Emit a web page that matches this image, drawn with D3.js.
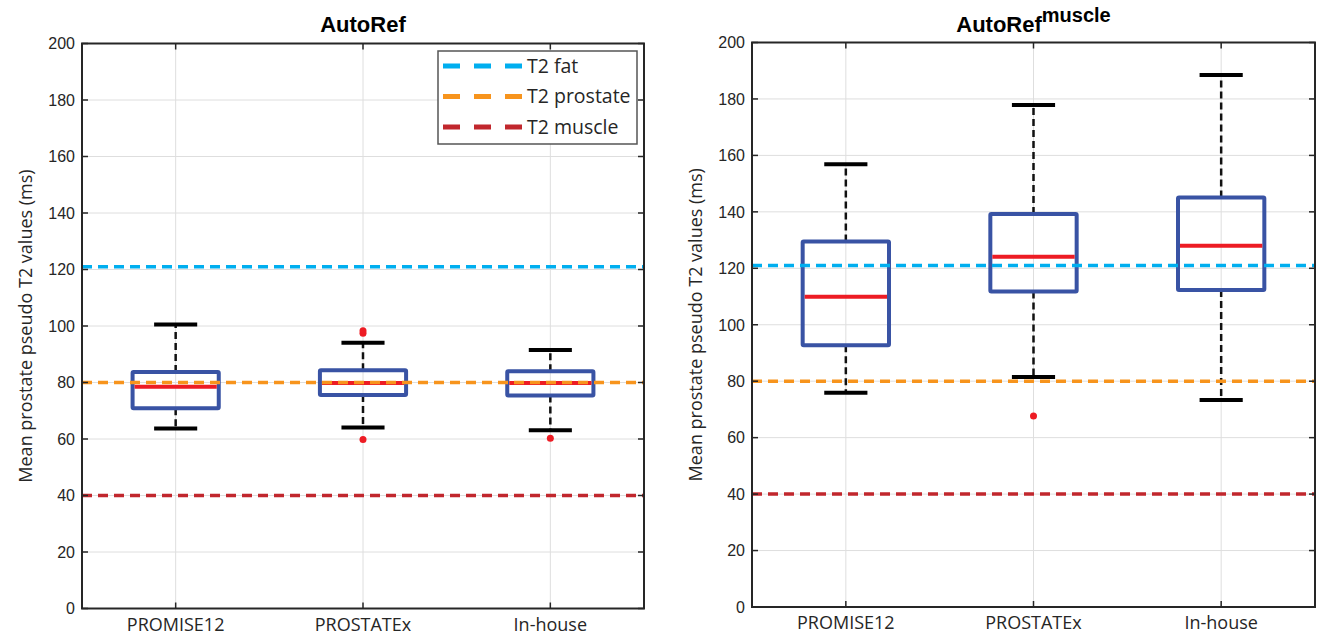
<!DOCTYPE html>
<html>
<head>
<meta charset="utf-8">
<script src="https://cdn.jsdelivr.net/npm/d3@7"></script>
<style>
  body { margin: 0; background: #fff; }
  svg { display: block; }
</style>
</head>
<body>
<script>
// categories and tick labels
const categories = ["PROMISE12", "PROSTATEx", "In-house"];
const yTickValues = [0, 20, 40, 60, 80, 100, 120, 140, 160, 180, 200];

// reference T2 values (dashed lines)
const refNames = ["T2 fat", "T2 prostate", "T2 muscle"];
const refValues = [121, 80, 40];
const refColors = ["#00aeef", "#f7941d", "#c1272d"];

// AutoRef box statistics
const autoRefLow    = [63.7, 64.1, 63.1];
const autoRefQ1     = [70.9, 75.6, 75.4];
const autoRefMedian = [78.5, 79.8, 79.8];
const autoRefQ3     = [83.7, 84.3, 84.0];
const autoRefHigh   = [100.5, 94.1, 91.5];
const autoRefOutliers = [[], [97.4, 98.3, 59.8], [60.3]];

// AutoRef^muscle box statistics
const muscleLow    = [75.9, 81.5, 73.3];
const muscleQ1     = [92.7, 111.8, 112.3];
const muscleMedian = [109.9, 124.1, 128.0];
const muscleQ3     = [129.5, 139.2, 145.1];
const muscleHigh   = [156.9, 177.9, 188.5];
const muscleOutliers = [[], [67.7], []];

const W = 1318, H = 634;
const svg = d3.select("body").append("svg")
    .attr("width", W)
    .attr("height", H);

const textFont = "'Open Sans', 'Noto Sans', sans-serif";
const numFont = "'Liberation Sans', Arial, sans-serif";

function drawPanel(p) {
    const x = d3.scaleLinear().domain([0.5, 3.5]).range([p.left, p.right]);
    const y = d3.scaleLinear().domain([0, 200]).range([p.bottom, p.top]);
    const g = svg.append("g");
    const boxHalf = (x(1.23) - x(1)) ;
    const capHalf = (x(1.115) - x(1));

    // grid
    g.selectAll(".hgrid").data(yTickValues).enter().append("line")
        .attr("x1", p.left).attr("x2", p.right)
        .attr("y1", d => y(d)).attr("y2", d => y(d))
        .attr("stroke", "#dedede").attr("stroke-width", 1);
    g.selectAll(".vgrid").data(categories).enter().append("line")
        .attr("x1", (d, i) => x(i + 1)).attr("x2", (d, i) => x(i + 1))
        .attr("y1", p.top).attr("y2", p.bottom)
        .attr("stroke", "#dedede").attr("stroke-width", 1);

    const stats = categories.map((c, i) => ({
        i: i + 1, low: p.low[i], q1: p.q1[i], med: p.med[i], q3: p.q3[i], high: p.high[i], out: p.out[i]
    }));

    // whiskers
    const wh = g.selectAll(".wh").data(stats).enter();
    wh.append("line")
        .attr("x1", d => x(d.i)).attr("x2", d => x(d.i))
        .attr("y1", d => y(d.q3)).attr("y2", d => y(d.high))
        .attr("stroke", "#111").attr("stroke-width", 2.5).attr("stroke-dasharray", "7,4");
    wh.append("line")
        .attr("x1", d => x(d.i)).attr("x2", d => x(d.i))
        .attr("y1", d => y(d.q1)).attr("y2", d => y(d.low))
        .attr("stroke", "#111").attr("stroke-width", 2.5).attr("stroke-dasharray", "7,4");
    // caps
    ["high", "low"].forEach(k => {
        g.selectAll(".cap-" + k).data(stats).enter().append("line")
            .attr("x1", d => x(d.i) - capHalf).attr("x2", d => x(d.i) + capHalf)
            .attr("y1", d => y(d[k])).attr("y2", d => y(d[k]))
            .attr("stroke", "#000").attr("stroke-width", 4);
    });
    // boxes
    g.selectAll(".box").data(stats).enter().append("rect")
        .attr("x", d => x(d.i) - boxHalf)
        .attr("width", boxHalf * 2)
        .attr("y", d => y(d.q3))
        .attr("height", d => y(d.q1) - y(d.q3))
        .attr("fill", "none")
        .attr("stroke", "#3953a4").attr("stroke-width", 4)
        .attr("rx", 1);
    // medians
    g.selectAll(".med").data(stats).enter().append("line")
        .attr("x1", d => x(d.i) - boxHalf + 2).attr("x2", d => x(d.i) + boxHalf - 2)
        .attr("y1", d => y(d.med)).attr("y2", d => y(d.med))
        .attr("stroke", "#ed1c24").attr("stroke-width", 4);
    // outliers
    stats.forEach(d => {
        g.selectAll(null).data(d.out).enter().append("circle")
            .attr("cx", x(d.i)).attr("cy", v => y(v))
            .attr("r", 3.5).attr("fill", "#ed1c24");
    });

    // reference lines
    g.selectAll(".ref").data(refValues).enter().append("line")
        .attr("x1", p.left).attr("x2", p.right)
        .attr("y1", d => y(d)).attr("y2", d => y(d))
        .attr("stroke", (d, i) => refColors[i])
        .attr("stroke-width", 3.5)
        .attr("stroke-dasharray", "10,6");

    // axes box with inward ticks
    g.append("rect")
        .attr("x", p.left).attr("y", p.top)
        .attr("width", p.right - p.left).attr("height", p.bottom - p.top)
        .attr("fill", "none").attr("stroke", "#262626").attr("stroke-width", 2);
    const tl = 6;
    yTickValues.forEach(v => {
        g.append("line").attr("x1", p.left).attr("x2", p.left + tl)
            .attr("y1", y(v)).attr("y2", y(v)).attr("stroke", "#262626").attr("stroke-width", 1.5);
        g.append("line").attr("x1", p.right).attr("x2", p.right - tl)
            .attr("y1", y(v)).attr("y2", y(v)).attr("stroke", "#262626").attr("stroke-width", 1.5);
    });
    categories.forEach((c, i) => {
        g.append("line").attr("x1", x(i + 1)).attr("x2", x(i + 1))
            .attr("y1", p.top).attr("y2", p.top + tl).attr("stroke", "#262626").attr("stroke-width", 1.5);
        g.append("line").attr("x1", x(i + 1)).attr("x2", x(i + 1))
            .attr("y1", p.bottom).attr("y2", p.bottom - tl).attr("stroke", "#262626").attr("stroke-width", 1.5);
    });

    // tick labels
    g.selectAll(".ylab").data(yTickValues).enter().append("text")
        .attr("x", p.left - 7).attr("y", d => y(d))
        .attr("dy", "0.36em")
        .attr("text-anchor", "end")
        .attr("font-family", numFont).attr("font-size", 16)
        .attr("fill", "#262626")
        .text(d => d);
    g.selectAll(".xlab").data(categories).enter().append("text")
        .attr("x", (d, i) => x(i + 1)).attr("y", p.bottom + 22)
        .attr("text-anchor", "middle")
        .attr("font-family", textFont).attr("font-size", 18)
        .attr("fill", "#262626")
        .text(d => d);

    // y axis title
    g.append("text")
        .attr("transform", `translate(${p.left - 56},${(p.top + p.bottom) / 2}) rotate(-90)`)
        .attr("text-anchor", "middle")
        .attr("dy", "0.35em")
        .attr("font-family", textFont).attr("font-size", 18)
        .attr("fill", "#262626")
        .text("Mean prostate pseudo T2 values (ms)");

    // title
    const t = g.append("text")
        .attr("x", (p.left + p.right) / 2).attr("y", 32)
        .attr("text-anchor", "middle")
        .attr("font-family", numFont).attr("font-size", 22)
        .attr("font-weight", "bold")
        .attr("fill", "#000");
    t.append("tspan").text("AutoRef");
    if (p.sup) {
        t.append("tspan").attr("dy", -10).attr("font-size", 20).text(p.sup);
    }

    return {x, y, g};
}

drawPanel({
    left: 82, right: 644, top: 43.5, bottom: 608.5,
    low: autoRefLow, q1: autoRefQ1, med: autoRefMedian, q3: autoRefQ3, high: autoRefHigh, out: autoRefOutliers
});

drawPanel({
    left: 752, right: 1315, top: 42.5, bottom: 607,
    low: muscleLow, q1: muscleQ1, med: muscleMedian, q3: muscleQ3, high: muscleHigh, out: muscleOutliers,
    sup: "muscle"
});

// legend (left panel)
const lg = svg.append("g").attr("transform", "translate(438,51)");
lg.append("rect")
    .attr("width", 199).attr("height", 93)
    .attr("fill", "#fff").attr("stroke", "#555").attr("stroke-width", 1.5);
const rowY = d3.scalePoint().domain(refNames).range([15, 76]);
refNames.forEach((name, i) => {
    lg.append("line")
        .attr("x1", 5).attr("x2", 88)
        .attr("y1", rowY(name)).attr("y2", rowY(name))
        .attr("stroke", refColors[i]).attr("stroke-width", 5)
        .attr("stroke-dasharray", "17,14");
    lg.append("text")
        .attr("x", 89).attr("y", rowY(name))
        .attr("dy", "0.35em")
        .attr("font-family", textFont).attr("font-size", 19.5)
        .attr("fill", "#262626")
        .text(name);
});
</script>
</body>
</html>
